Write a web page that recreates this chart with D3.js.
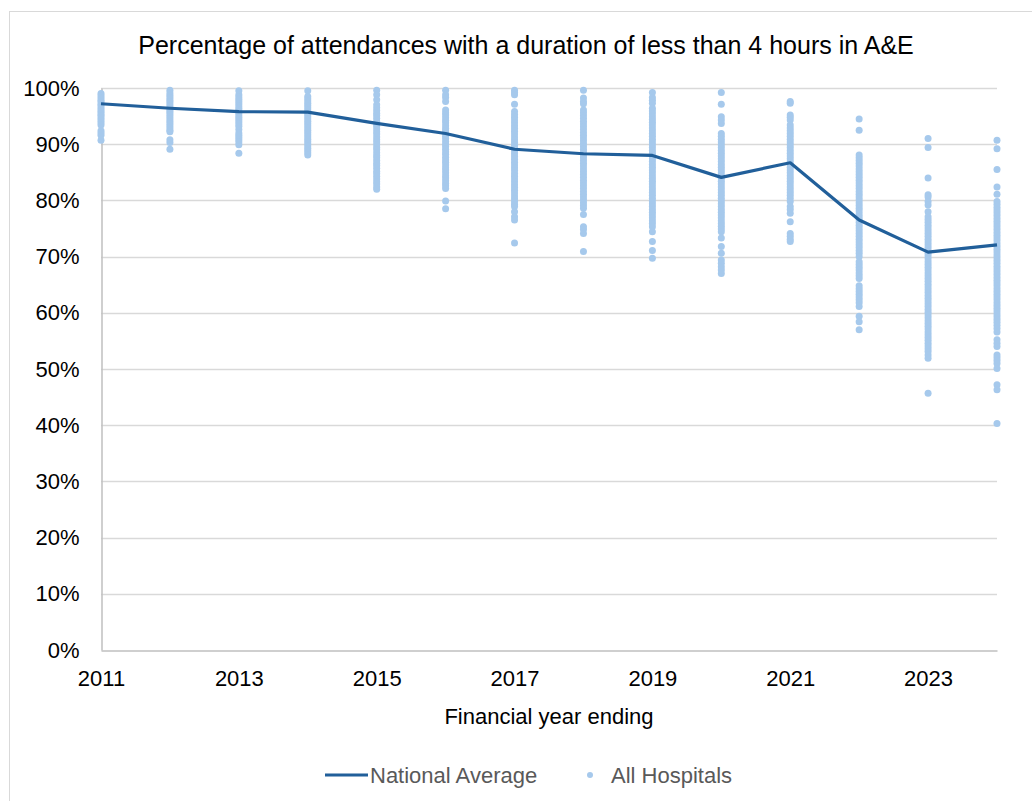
<!DOCTYPE html>
<html>
<head>
<meta charset="utf-8">
<script src="https://cdn.jsdelivr.net/npm/d3@7"></script>
<style>
  body { margin: 0; background: #fff; }
  svg { display: block; font-family: "Liberation Sans", Arial, sans-serif; }
</style>
</head>
<body>
<svg id="chart" width="1032" height="801"></svg>
<script>
(function(){
"use strict";

// financial year ending
const years = [2011, 2012, 2013, 2014, 2015, 2016, 2017, 2018, 2019, 2020, 2021, 2022, 2023, 2024];
const xTicks = [2011, 2013, 2015, 2017, 2019, 2021, 2023];
const yTicks = [0, 0.1, 0.2, 0.3, 0.4, 0.5, 0.6, 0.7, 0.8, 0.9, 1.0];

// national average, %
const nationalAverage = [97.2, 96.4, 95.8, 95.7, 93.7, 91.9, 89.1, 88.3, 88.0, 84.1, 86.7, 76.5, 70.8, 72.1];

// individual hospitals, % (per year)
const h2011 = [99.0, 98.6, 98.2, 97.8, 97.5, 97.1, 96.8, 96.4, 96.0, 95.7, 95.3, 95.0, 94.6, 94.2, 93.8, 93.4, 92.4, 92.0, 91.6, 90.7];
const h2012 = [99.6, 99.1, 98.7, 98.3, 97.9, 97.6, 97.2, 96.8, 96.4, 96.0, 95.7, 95.3, 94.9, 94.5, 94.1, 93.7, 93.3, 92.9, 92.5, 92.2, 90.8, 90.3, 89.1];
const h2013 = [99.5, 98.8, 98.4, 98.0, 97.6, 97.2, 96.8, 96.4, 96.0, 95.6, 95.2, 94.8, 94.4, 94.0, 93.6, 93.2, 92.6, 92.0, 91.6, 91.2, 90.8, 90.4, 89.9, 88.4];
const h2014 = [99.5, 98.5, 98.1, 97.7, 97.3, 96.9, 96.5, 96.1, 95.7, 95.3, 94.9, 94.5, 94.1, 93.7, 93.3, 92.9, 92.5, 92.1, 91.7, 91.3, 90.9, 90.5, 90.1, 89.7, 89.3, 88.9, 88.5, 88.1];
const h2015 = [99.6, 98.8, 97.9, 97.0, 96.5, 96.0, 95.5, 95.1, 94.6, 94.1, 93.6, 93.2, 92.7, 92.2, 91.8, 91.3, 90.8, 90.4, 89.9, 89.4, 89.0, 88.5, 88.0, 87.6, 87.1, 86.6, 86.2, 85.7, 85.2, 84.8, 84.3, 83.8, 83.3, 82.9, 82.4, 82.0];
const h2016 = [99.6, 98.8, 98.3, 97.6, 96.1, 95.6, 95.2, 94.7, 94.2, 93.8, 93.3, 92.8, 92.4, 91.9, 91.4, 91.0, 90.5, 90.0, 89.6, 89.1, 88.6, 88.2, 87.7, 87.2, 86.8, 86.3, 85.8, 85.4, 84.9, 84.4, 84.0, 83.5, 83.0, 82.6, 82.1, 79.9, 78.5];
const h2017 = [99.6, 99.2, 98.8, 97.1, 95.8, 95.3, 94.8, 94.3, 93.8, 93.3, 92.8, 92.3, 91.8, 91.3, 90.8, 90.3, 89.8, 89.3, 88.8, 88.3, 87.8, 87.3, 86.8, 86.3, 85.8, 85.3, 84.8, 84.3, 83.8, 83.3, 82.8, 82.3, 81.8, 81.3, 80.8, 80.3, 79.8, 79.3, 78.9, 78.0, 77.1, 76.5, 72.4];
const h2018 = [99.6, 98.2, 97.6, 97.2, 96.1, 95.6, 95.1, 94.6, 94.1, 93.6, 93.1, 92.6, 92.1, 91.6, 91.1, 90.6, 90.1, 89.6, 89.1, 88.6, 88.1, 87.6, 87.1, 86.6, 86.1, 85.6, 85.1, 84.6, 84.1, 83.6, 83.1, 82.6, 82.1, 81.6, 81.1, 80.6, 80.1, 79.6, 79.1, 78.6, 77.5, 75.3, 74.8, 74.1, 70.9];
const h2019 = [99.2, 98.3, 97.8, 97.3, 96.4, 95.9, 95.4, 94.9, 94.4, 93.9, 93.4, 92.9, 92.4, 91.9, 91.4, 90.9, 90.4, 89.9, 89.4, 88.9, 88.4, 87.9, 87.4, 86.9, 86.4, 85.9, 85.4, 84.9, 84.4, 83.9, 83.4, 82.9, 82.4, 81.9, 81.4, 80.9, 80.4, 79.9, 79.4, 78.9, 78.4, 77.9, 77.4, 76.9, 76.4, 75.9, 75.3, 74.4, 72.7, 71.1, 69.7];
const h2020 = [99.2, 97.1, 94.9, 94.3, 93.7, 91.9, 91.4, 90.9, 90.4, 89.9, 89.4, 88.9, 88.4, 87.9, 87.4, 86.9, 86.4, 85.9, 85.4, 84.9, 84.4, 83.9, 83.4, 82.9, 82.4, 81.9, 81.4, 80.9, 80.4, 79.9, 79.4, 78.9, 78.4, 77.9, 77.4, 76.9, 76.4, 75.9, 75.4, 74.9, 74.4, 73.3, 71.8, 70.6, 69.4, 68.8, 68.2, 67.6, 67.0];
const h2021 = [97.6, 97.3, 95.2, 94.8, 94.3, 93.4, 92.9, 92.4, 91.9, 91.4, 90.9, 90.4, 89.9, 89.4, 88.9, 88.4, 87.9, 87.4, 86.9, 86.4, 85.9, 85.4, 84.9, 84.4, 83.9, 83.4, 82.9, 82.4, 81.9, 81.4, 80.9, 80.4, 79.8, 78.9, 78.4, 77.7, 76.2, 74.1, 73.6, 73.1, 72.7];
const h2022 = [94.5, 92.5, 88.1, 87.6, 87.1, 86.6, 86.1, 85.6, 85.1, 84.6, 84.1, 83.6, 83.1, 82.6, 82.1, 81.6, 81.1, 80.6, 80.1, 79.6, 79.1, 78.6, 78.1, 77.6, 77.1, 76.6, 76.1, 75.6, 75.1, 74.6, 74.1, 73.6, 73.1, 72.6, 72.1, 71.6, 71.1, 70.6, 70.0, 69.1, 68.6, 68.1, 67.6, 67.1, 66.6, 66.1, 64.8, 64.3, 63.8, 63.3, 62.8, 62.3, 61.8, 61.1, 59.4, 58.4, 57.0];
const h2023 = [91.0, 89.4, 84.0, 81.0, 80.6, 79.8, 79.2, 78.0, 77.1, 76.6, 76.1, 75.6, 75.1, 74.6, 74.1, 73.6, 73.1, 72.6, 72.1, 71.6, 71.1, 70.6, 70.1, 69.6, 69.1, 68.6, 68.1, 67.6, 67.1, 66.6, 66.1, 65.6, 65.1, 64.6, 64.1, 63.6, 63.1, 62.6, 62.1, 61.6, 61.1, 60.6, 60.1, 59.6, 59.1, 58.6, 58.1, 57.6, 57.1, 56.6, 56.1, 55.6, 55.1, 54.6, 54.1, 53.6, 53.1, 52.5, 51.9, 45.7];
const h2024 = [90.7, 89.2, 85.5, 82.4, 81.1, 79.8, 79.3, 78.8, 78.3, 77.8, 77.3, 76.8, 76.3, 75.8, 75.3, 74.8, 74.3, 73.8, 73.3, 72.8, 72.3, 71.8, 71.3, 70.8, 70.3, 69.8, 69.3, 68.8, 68.3, 67.8, 67.3, 66.8, 66.3, 65.8, 65.3, 64.8, 64.3, 63.8, 63.3, 62.8, 62.3, 61.8, 61.3, 60.8, 60.3, 59.8, 59.3, 58.8, 58.3, 57.8, 57.2, 56.6, 55.2, 54.6, 54.0, 52.5, 52.0, 51.5, 51.0, 50.1, 47.2, 46.3, 40.3];
const hospitals = [h2011, h2012, h2013, h2014, h2015, h2016, h2017, h2018, h2019, h2020, h2021, h2022, h2023, h2024];

const lineColor = "#215f9a";
const dotColor = "#a6c9ec";
const textColor = "#000";
const legendColor = "#595959";
const labelSize = 22;

let svg = d3.select("#chart");

// chart frame
svg.append("rect")
  .attr("x", 9.5).attr("y", 11.5)
  .attr("width", 1100).attr("height", 900)
  .attr("fill", "#fff").attr("stroke", "#d9d9d9").attr("stroke-width", 1);

let x = d3.scaleLinear().domain([2011, 2024]).range([101, 997]);
let y = d3.scaleLinear().domain([0, 1]).range([650, 88]);

// title
svg.append("text")
  .attr("x", 526).attr("y", 54)
  .attr("text-anchor", "middle")
  .attr("font-size", 25)
  .attr("fill", textColor)
  .text("Percentage of attendances with a duration of less than 4 hours in A&E");

// gridlines
svg.append("g").selectAll("line")
  .data(yTicks.slice(1))
  .enter().append("line")
    .attr("x1", x(2011)).attr("x2", x(2024))
    .attr("y1", d => Math.round(y(d)) + 0.5).attr("y2", d => Math.round(y(d)) + 0.5)
    .attr("stroke", "#d9d9d9").attr("stroke-width", 1.3);

// y axis
let yAxis = svg.append("g")
  .attr("transform", "translate(" + (x(2011) + 0.5) + ",0)")
  .call(d3.axisLeft(y).tickValues(yTicks).tickFormat(d3.format(".0%")).tickSize(0).tickPadding(22));
yAxis.select(".domain").attr("stroke", "#bfbfbf").attr("stroke-width", 1.5);
yAxis.selectAll("text").attr("font-size", labelSize).attr("fill", textColor).attr("font-family", "Liberation Sans, Arial, sans-serif");

// x axis
let xAxis = svg.append("g")
  .attr("transform", "translate(0," + (y(0) + 0.5) + ")")
  .call(d3.axisBottom(x).tickValues(xTicks).tickFormat(d3.format("d")).tickSize(0).tickPadding(20));
xAxis.select(".domain").attr("stroke", "#bfbfbf").attr("stroke-width", 1.5);
xAxis.selectAll("text").attr("font-size", labelSize).attr("fill", textColor).attr("font-family", "Liberation Sans, Arial, sans-serif");

svg.append("text")
  .attr("x", (x(2011) + x(2024)) / 2).attr("y", 724)
  .attr("text-anchor", "middle")
  .attr("font-size", labelSize)
  .attr("fill", textColor)
  .text("Financial year ending");

// hospital dots
let points = [];
years.forEach((yr, i) => hospitals[i].forEach(v => points.push({year: yr, value: v / 100})));
svg.append("g").selectAll("circle")
  .data(points)
  .enter().append("circle")
    .attr("cx", d => x(d.year))
    .attr("cy", d => y(d.value))
    .attr("r", 3.5)
    .attr("fill", dotColor);

// national average line
let line = d3.line()
  .x((d, i) => x(years[i]))
  .y(d => y(d / 100));
svg.append("path")
  .datum(nationalAverage)
  .attr("d", line)
  .attr("fill", "none")
  .attr("stroke", lineColor)
  .attr("stroke-width", 3.2)
  .attr("stroke-linejoin", "round");

// legend
let legend = svg.append("g").attr("transform", "translate(0,775)");
legend.append("line")
  .attr("x1", 325).attr("x2", 368)
  .attr("y1", 0).attr("y2", 0)
  .attr("stroke", lineColor).attr("stroke-width", 3.2);
legend.append("text")
  .attr("x", 370).attr("y", 8)
  .attr("font-size", labelSize).attr("fill", legendColor)
  .text("National Average");
legend.append("circle")
  .attr("cx", 590).attr("cy", 0).attr("r", 3)
  .attr("fill", dotColor);
legend.append("text")
  .attr("x", 611).attr("y", 8)
  .attr("font-size", labelSize).attr("fill", legendColor)
  .text("All Hospitals");

})();
</script>
</body>
</html>
